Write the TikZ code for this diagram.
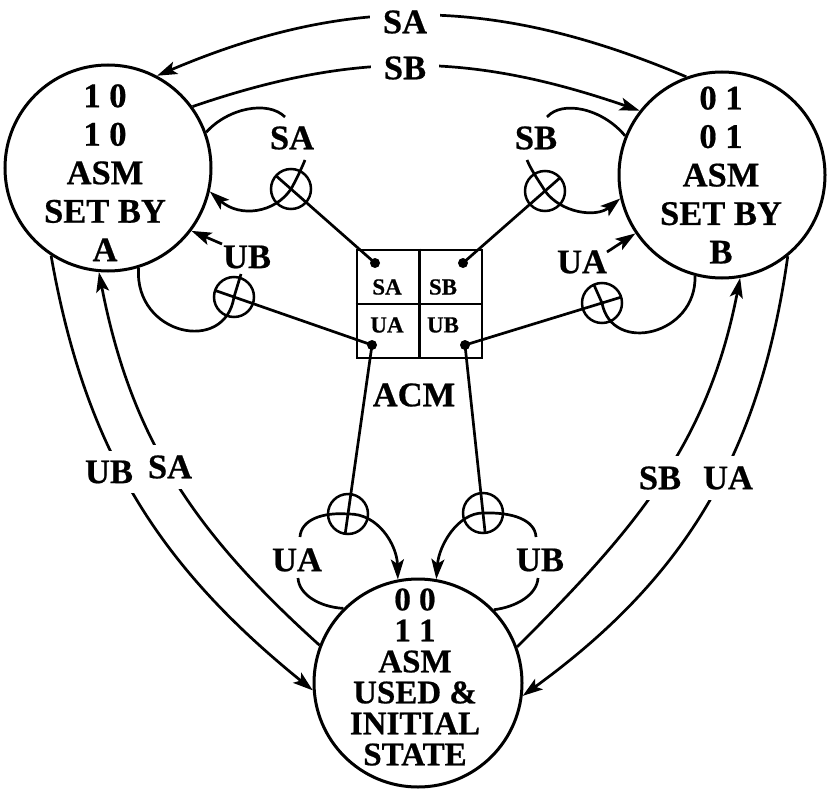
\documentclass[tikz,border=0pt]{standalone}
\usepackage{fontspec}
\setmainfont{Liberation Serif}[BoldFeatures={FakeBold=0.6}]
\usetikzlibrary{arrows.meta,calc}
\begin{document}
\begin{tikzpicture}[x=1pt,y=1pt,
  state/.style={circle,draw,line width=3pt,minimum size=206pt,inner sep=0pt},
  xo/.style={circle,draw,line width=2.5pt,minimum size=40pt,inner sep=0pt},
  big/.style={font=\bfseries\fontsize{34.5}{38.5}\selectfont,align=center,inner sep=0pt},
  lbl/.style={font=\bfseries\fontsize{34.5}{38.5}\selectfont,inner sep=0pt},
  glbl/.style={lbl,fill=white,inner xsep=4pt,inner ysep=10pt},
  small/.style={font=\bfseries\fontsize{23}{24}\selectfont,inner sep=0pt},
  ln/.style={line width=2.7pt},
  arr/.style={ln,-{Stealth[length=20pt,width=13pt,inset=4.5pt]}},
]
\useasboundingbox (0,0) rectangle (829,-789);

% states
\node[state] (A) at (108,-168) {};
\node[state] (B) at (722,-175) {};
\node[state,minimum size=208pt] (C) at (418,-683) {};
\node[big] (tA) at (105,-172.7) {1 0\\1 0\\ASM\\SET BY\\A};
\node[big] (tB) at (721,-175) {0 1\\0 1\\ASM\\SET BY\\B};
\node[font=\bfseries\fontsize{33}{31}\selectfont,align=center,inner sep=0pt] (tC) at (415,-677) {0 0\\1 1\\ASM\\USED \&\\INITIAL\\STATE};

% top arcs
\draw[arr] (B.110) to[out=157,in=23] (A.62);
\draw[arr] (A.36) to[out=19,in=161] (B.142);
\node[glbl,inner xsep=13pt] (lSAt) at (405,-22) {SA};
\node[glbl,inner xsep=13pt] (lSBt) at (405,-68) {SB};

% side arcs
\draw[arr] (A.237) to[out=-80,in=141] (C.184);
\draw[arr] (C.159) to[out=138,in=-79] (A.265);
\draw[arr] (C.20) to[out=45,in=-101] (B.-80);
\draw[arr] (B.-51) to[out=-98,in=36] (C.-7);
\node[glbl] (lUBl) at (109,-472) {UB};
\node[glbl] (lSAl) at (170,-467) {SA};
\node[glbl] (lSBr) at (660,-478) {SB};
\node[glbl] (lUAr) at (728,-478) {UA};

% ACM box
\node[draw,line width=2.7pt,minimum width=125pt,minimum height=108pt,inner sep=0pt] (acm) at (419.5,-304) {};
\draw[line width=2.4pt] (acm.north) -- (acm.south) (acm.west) -- (acm.east);
\node[small] (cSA) at (387,-287) {SA};
\node[small] (cSB) at (443,-287) {SB};
\node[small] (cUA) at (387,-325) {UA};
\node[small] (cUB) at (443,-325) {UB};
\node[lbl] (acmlbl) at (414,-395) {ACM};

\coordinate (dSA) at (375,-263);
\coordinate (dSB) at (463,-263);
\coordinate (dUA) at (372,-345);
\coordinate (dUB) at (465,-345);
\foreach \d in {dSA,dSB,dUA,dUB} \fill (\d) circle (5);

% crossing circles
\node[xo] (xSA) at (291,-189) {};
\node[xo] (xSB) at (545,-191) {};
\node[xo] (xUB) at (234,-297) {};
\node[xo] (xUA) at (602,-303) {};
\node[xo] (xBL) at (348,-514) {};
\node[xo] (xBR) at (483,-513) {};

% connectors from ACM
\draw[ln] (dSA) -- ($(xSA)!-20pt!(dSA)$);
\draw[ln] (dSB) -- ($(xSB)!-20pt!(dSB)$);
\draw[ln] (dUA) -- ($(xUB)!-20pt!(dUA)$);
\draw[ln] (dUA) -- ($(xBL)!-20pt!(dUA)$);
\draw[ln] (dUB) -- ($(xUA)!-20pt!(dUB)$);
\draw[ln] (dUB) -- ($(xBR)!-20pt!(dUB)$);

% loop SA near A
\coordinate (gSA1) at (285,-117);
\coordinate (gSA2) at (305,-160);
\draw[ln] (A.20) .. controls (228,-108) and (268,-100) .. (gSA1);
\node[lbl] (lSA) at (292,-138) {SA};
\draw[arr] (gSA2) .. controls (300,-172) and (295,-182) .. (xSA.center) .. controls (275,-213) and (240,-218) .. (A.-13);

% loop SB near B
\coordinate (gSB1) at (547,-117);
\coordinate (gSB2) at (527,-160);
\draw[ln] (B.158) .. controls (602,-108) and (562,-100) .. (gSB1);
\node[lbl] (lSB) at (536,-138) {SB};
\draw[arr] (gSB2) .. controls (532,-172) and (541,-184) .. (xSB.center) .. controls (561,-213) and (596,-218) .. (B.193);

% loop UB near A
\coordinate (gUB1) at (241,-274);
\coordinate (gUB2) at (222,-244);
\draw[ln] (A.-73) .. controls (134,-335) and (225,-355) .. (xUB.center) -- (gUB1);
\node[lbl] (lUB) at (247,-257) {UB};
\draw[arr] (gUB2) -- (A.-37);

% loop UA near B
\coordinate (gUA1) at (594,-285);
\coordinate (gUA2) at (607,-252);
\draw[ln] (B.-105) .. controls (697,-335) and (612,-355) .. (xUA.center) -- (gUA1);
\node[lbl] (lUA) at (582,-262) {UA};
\draw[arr] (gUA2) -- (B.-146);

% loop UA near C
\coordinate (gBL1) at (298,-578);
\coordinate (gBL2) at (300,-537);
\draw[ln] (C.135) .. controls (320,-607) and (299,-595) .. (gBL1);
\node[lbl] (lUAb) at (297,-560) {UA};
\draw[arr] (gBL2) .. controls (301,-520) and (322,-512) .. (xBL.center) .. controls (378,-513) and (397,-545) .. (C.101);

% loop UB near C
\coordinate (gBR1) at (538,-578);
\coordinate (gBR2) at (536,-537);
\draw[ln] (C.44) .. controls (516,-607) and (537,-595) .. (gBR1);
\node[lbl] (lUBb) at (540,-560) {UB};
\draw[arr] (gBR2) .. controls (535,-520) and (513,-512) .. (xBR.center) .. controls (458,-513) and (439,-545) .. (C.80);
\end{tikzpicture}
\end{document}
